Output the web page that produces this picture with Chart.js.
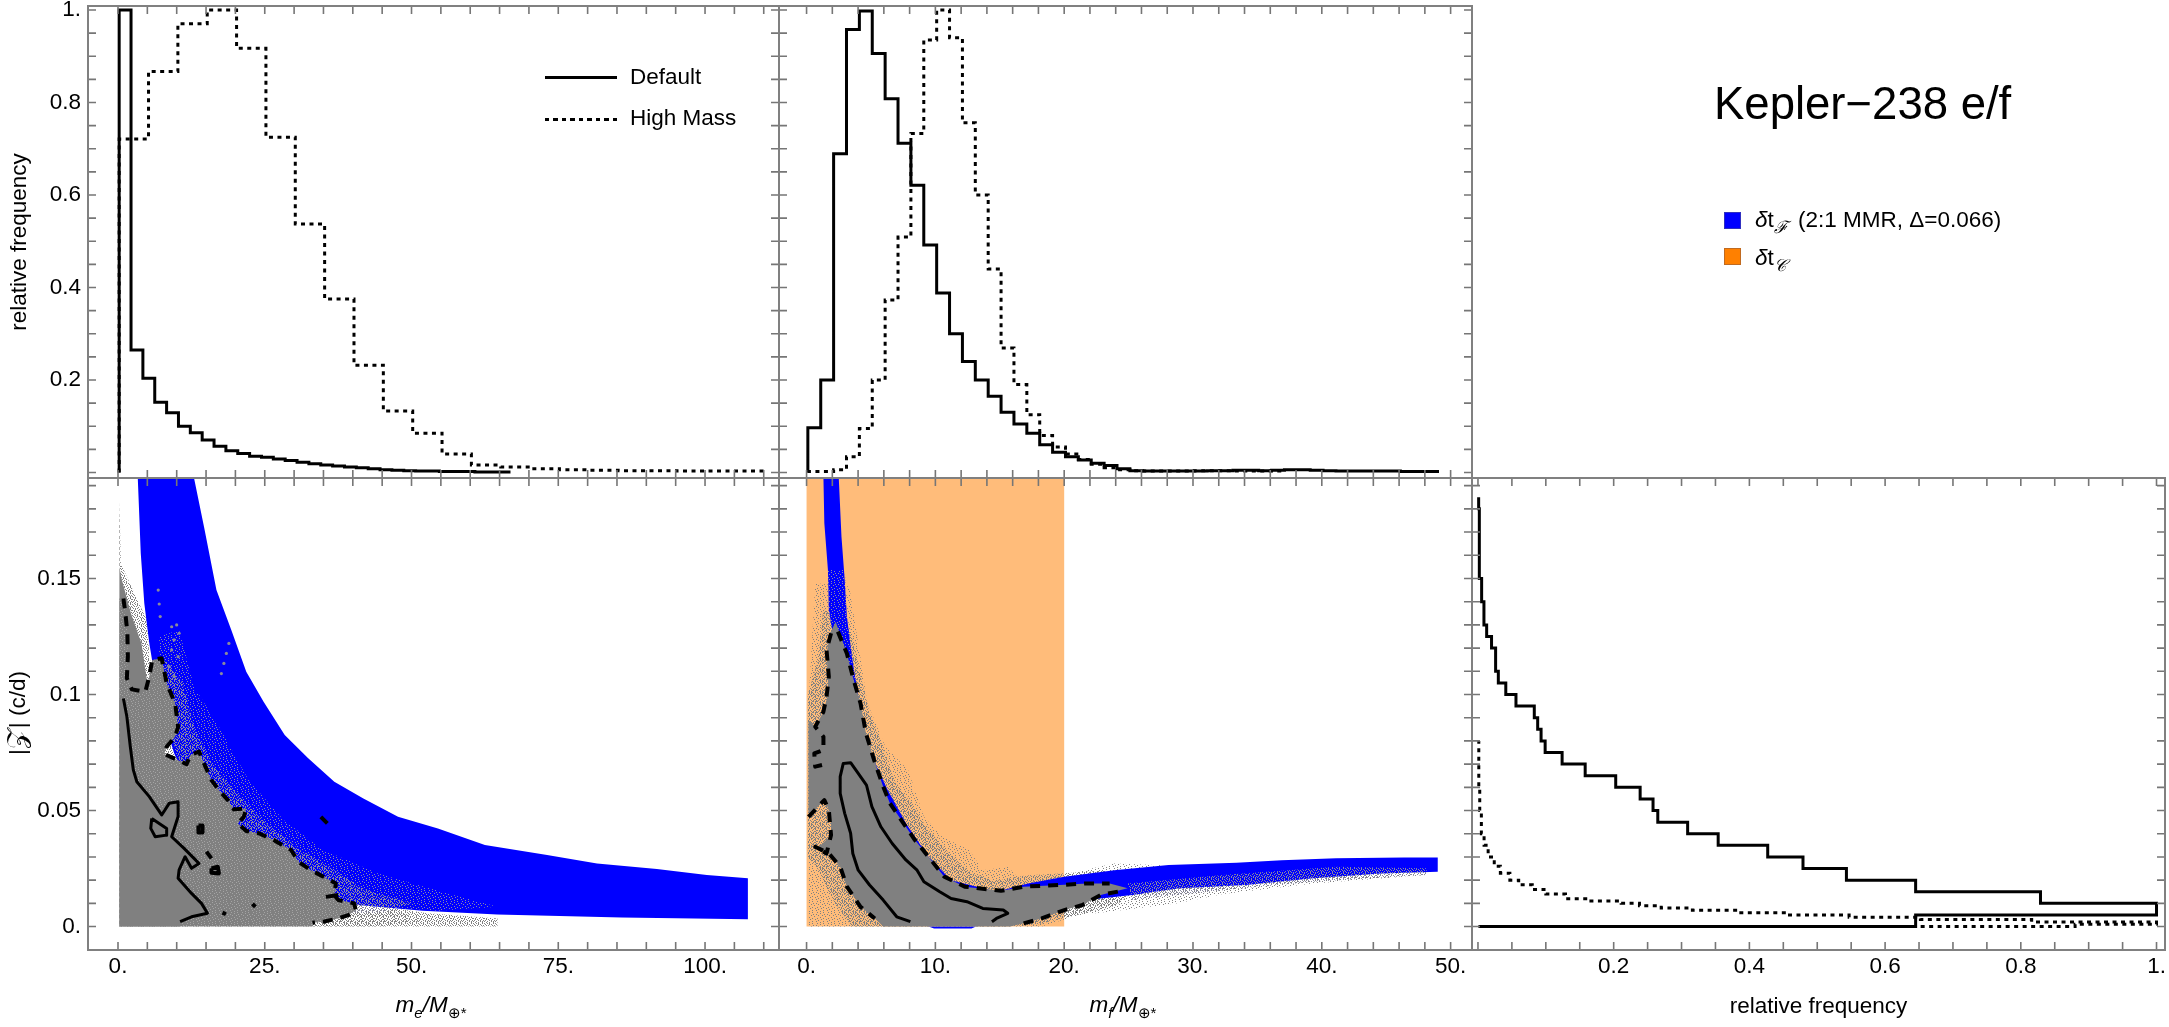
<!DOCTYPE html>
<html>
<head>
<meta charset="utf-8">
<script src="https://cdn.jsdelivr.net/npm/chart.js@4"></script>
<style>
html, body { margin: 0; padding: 0; background: #fff; }
body { width: 2169px; height: 1027px; position: relative; overflow: hidden; font-family: "Liberation Sans", Arial, sans-serif; color: #000; }
canvas { position: absolute; filter: blur(0.55px); }
.t { position: absolute; white-space: nowrap; font-size: 22.5px; line-height: 26px; filter: blur(0.35px); }
.t sub { font-size: 15px; line-height: 0; }
.t sub.script { font-size: 17px; }
.swatch { position: absolute; width: 15px; height: 15px; }
</style>
</head>
<body>
<canvas id="topE"></canvas>
<canvas id="topF"></canvas>
<canvas id="massE"></canvas>
<canvas id="massF"></canvas>
<canvas id="sideZ"></canvas>

<div class="t" style="left:1714px;top:78px;font-size:45.5px;line-height:52px">Kepler−238 e/f</div>

<div style="position:absolute;left:545px;top:76px;width:72px;height:3px;background:#000"></div>
<div class="t" style="left:630px;top:64px">Default</div>
<div style="position:absolute;left:545px;top:118px;width:72px;height:3px;background:repeating-linear-gradient(90deg,#000 0 4px,transparent 4px 8.5px)"></div>
<div class="t" style="left:630px;top:105px">High Mass</div>

<div class="swatch" style="left:1724px;top:212px;background:#0000ff;border:1px solid #3030c0"></div>
<div class="t" style="left:1755px;top:207px"><i>δ</i>t<sub class="script"><i>ℱ</i></sub></div>
<div class="t" style="left:1798px;top:207px">(2:1 MMR, Δ=0.066)</div>
<div class="swatch" style="left:1724px;top:248px;background:#ff8000;border:1px solid #c06a20"></div>
<div class="t" style="left:1755px;top:245px"><i>δ</i>t<sub class="script"><i>𝒞</i></sub></div>

<div class="t" style="left:431px;top:992px;transform:translateX(-50%)"><i>m<sub>e</sub>/M</i><sub>⊕*</sub></div>
<div class="t" style="left:1123px;top:992px;transform:translateX(-50%)"><i>m<sub>f</sub>/M</i><sub>⊕*</sub></div>
<div class="t" style="left:18px;top:713px;transform:translate(-50%,-50%) rotate(-90deg)">|<span style="font-size:27px;line-height:0">𝒵</span>| (c/d)</div>

<script>
// axis ticks
const xTicksE = [0, 25, 50, 75, 100];
const xLabelsE = ['0.', '25.', '50.', '75.', '100.'];
const xTicksF = [0, 10, 20, 30, 40, 50];
const xLabelsF = ['0.', '10.', '20.', '30.', '40.', '50.'];
const freqTicks = [0.2, 0.4, 0.6, 0.8, 1];
const freqLabels = ['0.2', '0.4', '0.6', '0.8', '1.'];
const zTicks = [0, 0.05, 0.1, 0.15];
const zLabels = ['0.', '0.05', '0.1', '0.15'];

// top histograms, relative frequency per bin
const defaultE = [1, .265, .204, .152, .129, .1, .086, .07, .057, .047, .041, .035, .033, .029, .026, .022, .019, .016, .014, .012, .01, .008, .006, .005, .004, .003, .003, .002, .002, .002, .001, .001, .001];
const highMassE = [.721, .867, .97, 1, .917, .725, .537, .375, .232, .133, .085, .04, .016, .012, .008, .006, .005, .004, .004, .003, .003, .003];
const defaultF = [.097, .2, .689, .958, .998, .906, .808, .712, .621, .492, .388, .3, .24, .2, .165, .13, .105, .085, .06, .044, .034, .027, .02, .015, .008, .004, .003, .003, .003, .003, .003, .004, .004, .005, .005, .004, .005, .006, .006, .005, .004, .003, .003, .003, .003, .003, .002, .002, .002];
const highMassF = [.002, .002, .006, .034, .095, .2, .373, .509, .733, .935, 1, .94, .756, .6, .44, .269, .19, .125, .08, .055, .04, .028, .018, .01, .006, .004, .003, .003, .003, .003, .004, .004, .004, .003, .003, .003, .003];

// side histograms, frequency per |Z| bin
const defaultZ = [.645, 1, .829, .645, .543, .479, .427, .354, .309, .265, .258, .239, .203, .158, .124, .099, .093, .088, .083, .056, .041, .03, .026, .026, .02, .0128, .0088, .0088, .0054, .0054, .002, .002, .002, .002, .002, .002, .001];
const highMassZEdges = [0, .001, .002, .003, .004, .005, .006, .007, .008, .009, .01, .011, .012, .014, .016, .018, .02, .023, .026, .03, .035, .04, .05, .06, .08];
const highMassZ = [.88, 1, .816, .652, .547, .455, .382, .316, .27, .238, .211, .162, .129, .1, .08, .06, .047, .033, .024, .015, .009, .005, .0026, .0012];

// m_e panel regions
const grayE_m = [.24, .49, 2.78, 4.9, 5.33, 9.56, 19.73, 32.44, 40.92, 52.8, 64.65, 64.65, .24];
const grayE_z = [.1831, .1565, .1436, .1321, .1163, .0747, .0315, .0143, .01, .0057, .0035, 0, 0];
const heavyTopE_m = [.24, .6, 2.2, 4, 5, 5, .24];
const heavyTopE_z = [.155, .15, .135, .122, .105, .09, .09];
const heavyLowE_m = [30, 38, 46, 52, 44, 33];
const heavyLowE_z = [.02, .012, .008, .0025, 0, 0];
const blueE_m = [12.95, 14.65, 16.77, 19.3, 21.85, 24.8, 28.4, 32.4, 36.85, 41.8, 47.7, 54.5, 62.5, 73.1, 81.6, 91.8, 100.3, 107.3, 107.3, 85.8, 64.6, 51.9, 40.9, 34.1, 27.4, 19.7, 13.8, 9.56, 7.02, 5.33, 4.48, 3.88, 3.37];
const blueE_z = [.1933, .1723, .145, .1278, .1098, .0969, .0825, .0725, .0624, .0552, .0473, .0423, .0351, .0308, .0272, .0248, .0222, .0208, .0032, .0039, .0052, .0068, .0093, .0128, .0215, .0359, .0531, .0747, .0962, .1221, .1393, .1608, .1933];
const mixE_m = [7.02, 10.41, 12.95, 17.19, 22.27, 28.21, 34.99, 44.31, 56.18, 64.65, 54.5, 40.9, 27.4, 19.7, 13.8, 9.56, 7.02];
const mixE_z = [.1249, .1278, .1034, .0861, .0631, .0459, .033, .0229, .0143, .0085, .0068, .0093, .0215, .0359, .0531, .0747, .0962];
const nearE_m = [8, 11, 13, 16, 20, 25, 31, 37, 42, 50, 45, 38, 30, 20, 12, 8];
const nearE_z = [.115, .105, .085, .07, .058, .045, .033, .024, .016, .01, .006, .006, .01, .03, .06, .09];
const streakE_m = [6.85, 7.02, 7.19, 9.14, 9.99, 10.41, 9.56, 9.14, 10.24, 8.72, 9.56, 18.89, 18.46, 18.04, 17.61];
const streakE_z = [.145, .139, .1336, .1292, .13, .1264, .1235, .1192, .1163, .112, .1077, .122, .1177, .1134, .109];

// m_e contours
const solidE_m = [.92, 1.51, 2.1, 2.61, 3.21, 5.33, 7.44, 8.72, 10.24, 10.24, 9.14, 11.26, 12.95, 13.8, 12.53, 11.43, 10.41, 10.24, 12.53, 14.22, 15.24, 12.53, 10.58];
const solidE_z = [.0983, .0905, .0775, .0675, .0624, .056, .0481, .0531, .0538, .0474, .0387, .0337, .0294, .0272, .0251, .0301, .0244, .0208, .0143, .01, .0057, .0042, .0021];
const loopE_m = [5.75, 8.29, 8.29, 6.34, 5.58, 5.75];
const loopE_z = [.0466, .0423, .0394, .0387, .0423, .0466];
const dashE_m = [.92, 1.26, 1.6, 1.68, 1.51, 2.36, 4.65, 5.33, 5.83, 7.44, 8.29, 9.73, 10.24, 9.73, 8.29, 7.87, 11.68, 12.36, 13.8, 14.65, 15.92, 17.19, 18.72, 19.73, 21.85, 21.43, 20.41, 21.85, 23.97, 26.51, 29.48, 30.75, 32.87, 34.99, 37.11, 36.85, 37.53, 40.24, 40.5, 39.23, 37.53, 34.99, 33.12];
const dashE_z = [.1414, .135, .1264, .1163, .107, .1022, .1012, .1077, .1149, .1156, .1048, .0962, .0861, .0818, .0775, .0744, .07, .0739, .0754, .0703, .0631, .0588, .0545, .0505, .0509, .0473, .0445, .0412, .0402, .0373, .033, .0279, .0243, .0215, .0186, .0136, .0114, .01, .0071, .0049, .0035, .0021, .0016];
const blobsE_m = [[34.56, 35.66], [13.7, 14.4, 14.4, 13.7, 13.7], [15.07, 15.92], [15.92, 17, 17.19, 15.92, 15.92], [22.9, 23.4], [17.8, 18.4], [35.41, 37.5]];
const blobsE_z = [[.0473, .0445], [.0435, .0435, .0405, .0405, .0435], [.0323, .0294], [.0251, .0258, .0229, .0232, .0251], [.0098, .0085], [.006, .0053], [.0128, .0136]];

// m_f panel regions
const orangeF_m = [0, 20, 20, 0];
const orangeF_z = [0, 0, .1933, .1933];
const grayF_m = [.67, 3.31, 4.01, 4.72, 6.12, 7.88, 9.11, 10.52, 12.63, 13.68, 15.62, 16.85, 23.88, 48.14, 39.35, 32.32, 28.8, 24.58, 21.07, 18.25, .15, .15];
const grayF_z = [.1479, .1465, .122, .0962, .0775, .0675, .0473, .0387, .033, .0243, .0258, .0186, .0272, .0222, .0186, .014, .01, .0071, .0049, 0, 0, .0962];
const nearF_m = [1.3, 3.4, 4.1, 4.9, 5.8, 6.8, 8, 9.4, 10.8, 12.5, 14.5, 17, 20, 23, 26, 24, 21, 18, 15.5, 5.5, 3.5, 2, .9, .1, .1, .9];
const nearF_z = [.137, .128, .11, .092, .079, .063, .054, .042, .033, .024, .0195, .022, .023, .024, .018, .009, .005, .001, 0, 0, 0, .012, .025, .03, .1, .115];
const blueF_m = [1.31, 1.38, 1.66, 1.73, 2.08, 4.19, 11.22, 21.77, 25.29, 28.8, 34.08, 39.35, 44.62, 49, 49, 46.38, 41.11, 36.89, 33.37, 28.1, 23.88, 20.01, 17.2, 14.74, 11.22, 9.46, 7.71, 6.3, 4.96, 4.44, 4.01, 3.56, 3.13, 2.96, 2.71, 2.5];
const blueF_z = [.1933, .1738, .1537, .1364, .1249, .0675, .0129, .0114, .0136, .0164, .0179, .0208, .0229, .0236, .0298, .0298, .0294, .0286, .0275, .0265, .0243, .0215, .0186, .015, .02, .0301, .0445, .0588, .0746, .0847, .0991, .1149, .1336, .1494, .168, .1933];
const sliverF_m = [9.46, 13.16, 12.8, 9.9];
const sliverF_z = [0, 0, -.0008, -.0008];
const mixTopF_m = [1.66, 2.96, 3.49, 4.54, 1.73];
const mixTopF_z = [.1537, .1537, .1163, .0818, .122];
const mixTailF_m = [24.93, 32.32, 41.11, 48.14, 48.14, 39.35, 32.32, 25.29];
const mixTailF_z = [.0186, .0222, .0258, .0251, .0222, .0193, .0157, .0114];
const coreF_m = [2.26, 3.13, 3.66, 4.19, 4.61, 5.24, 5.95, 6.47, 7.35, 8.41, 9.46, 10.69, 12.28, 15.09, 16.85, 19.66, 21.77, 23.53, 24.93, 22.83, 21.42, 20.01, 18.25, 16.85, 15.79, 5.95, 5.3, 4.19, 3.13, 2.61, 1.73, .85, 1.9, 1.9, 1.38, .67, .15, .15, .67, 1.31, 1.62, 1.66, 1.55, 1.83];
const coreF_z = [.1314, .1177, .1062, .0962, .0833, .0718, .0603, .0531, .0459, .0373, .0301, .0215, .0172, .0154, .0172, .0179, .0186, .0186, .0165, .0136, .0093, .0071, .0035, .0014, 0, 0, .0035, .0085, .0172, .0258, .0315, .0337, .0394, .0473, .0552, .0502, .0488, .089, .0861, .0926, .0991, .1077, .1177, .1264];

// m_f contours
const solidF_m = [8.06, 7, 5.95, 4.89, 4.01, 3.59, 3.42, 2.96, 2.61, 2.61, 2.85, 3.42, 4.01, 4.65, 5.07, 5.77, 6.65, 7.71, 8.58, 9.11, 10.34, 11.22, 12.45, 13.68, 15.27, 15.62, 14.74, 14.39];
const solidF_z = [.0021, .0042, .0114, .0179, .0243, .0315, .0402, .0488, .0574, .0646, .0703, .0706, .066, .061, .0517, .043, .0358, .0287, .0243, .0193, .015, .0121, .0107, .0078, .0071, .0057, .0035, .0021];
const dashUpF_m = [2.43, 3.13, 3.66, 4.19, 4.61, 5.24, 5.95, 6.47, 7.35, 8.41, 9.46, 10.69, 12.28, 15.09, 16.85, 19.66, 21.77, 23.53];
const dashUpF_z = [.1271, .1177, .1062, .0962, .0833, .0718, .0603, .0531, .0459, .0373, .0301, .0215, .0172, .0154, .0172, .0179, .0186, .0186];
const dashLeftF_m = [1.9, 1.55, 1.73, 1.55, 1.31, .67, 1.31, 1.31, .6, .67, 1.2];
const dashLeftF_z = [.1264, .1192, .1077, .0991, .0926, .0861, .0818, .0761, .0746, .0689, .0696];
const dashLowF_m = [.15, 1.38, 1.73, 1.9, 1.55, .67, 1.73, 2.61, 3.13, 4.19, 5.3];
const dashLowF_z = [.0473, .0545, .0502, .0394, .0315, .0344, .0315, .0258, .0172, .0085, .0035];
const dashTailF_m = [16.85, 18.25, 20.01, 21.42, 22.83, 24.58];
const dashTailF_z = [.0014, .0035, .0071, .0093, .0136, .0155];

const FONT = 'Liberation Sans';
const GRAY = '#808080';
const BLUE = '#0000ff';

// small tile so the clouds read as dots instead of flat fills
function speckle(rows, mark, dot, base) {
  const c = document.createElement('canvas');
  c.width = rows[0].length;
  c.height = rows.length;
  const g = c.getContext('2d');
  if (base) { g.fillStyle = base; g.fillRect(0, 0, c.width, c.height); }
  g.fillStyle = dot;
  rows.forEach((row, y) => { [...row].forEach((ch, x) => { if (ch === mark) g.fillRect(x, y, 1, 1); }); });
  return g.createPattern(c, 'repeat');
}
const denseRows = ['#..#.#...#.', '.#...#.#...', '..#.#...#.#', '#.....#..#.', '.#.#.#...#.', '...#...#.#.', '#.#...#...#', '..#.#...#..', '.#...#.#..#', '#..#...#.#.', '..#..#...#.'];
const sparseRows = ['#.....#....', '...#.......', '.......#..#', '.#...#.....', '........#..', '...#.......', '#.....#....', '....#....#.', '.#.........', '......#...#', '...#.......'];
const grayDots = speckle(denseRows, '#', GRAY);
const grayFew = speckle(sparseRows, '#', GRAY);
const grayHeavy = speckle(denseRows, '.', GRAY);
const blueMix = speckle(sparseRows, '#', '#8a8aa8');
const blueNear = speckle(denseRows, '#', '#8888a0');
const midGray = speckle(sparseRows, '#', '#a4a4a4', GRAY);

function pts(xs, ys) { return xs.map((x, i) => ({ x: x, y: ys[i] })); }
function poly(xs, ys, color) {
  return { data: pts(xs, ys), fill: 'shape', backgroundColor: color, borderWidth: 0, pointRadius: 0 };
}
function curve(xs, ys, dash, width) {
  return { data: pts(xs, ys), fill: false, borderColor: '#000', borderWidth: width || 3, borderDash: dash || [], borderJoinStyle: 'round', pointRadius: 0 };
}
// histogram outline from bin edges and heights
function stepVerts(edges, vals) {
  const out = [{ x: edges[0], y: 0 }];
  vals.forEach((v, i) => { out.push({ x: edges[i], y: v }, { x: edges[i + 1], y: v }); });
  return out;
}
function binEdges(start, width, vals) { return [...vals, 0].map((_, i) => start + i * width); }
function hist(edges, vals, dash) {
  return { data: stepVerts(edges, vals), fill: false, borderColor: '#000', borderWidth: 3, borderDash: dash || [], pointRadius: 0 };
}
// same outline turned on its side, for the right hand panel
function sideHist(edges, vals, dash, startFreq) {
  const out = [{ x: startFreq, y: 0 }];
  vals.forEach((v, i) => { out.push({ x: v, y: edges[i] }, { x: v, y: edges[i + 1] }); });
  return { data: out, fill: false, borderColor: '#000', borderWidth: 3, borderDash: dash || [], pointRadius: 0 };
}

const frameTicks = {
  id: 'frameTicks',
  afterDraw(chart) {
    const { left, right, top, bottom } = chart.chartArea;
    const ctx = chart.ctx;
    const TL = 8;
    ctx.save();
    ctx.strokeStyle = '#767676';
    ctx.lineWidth = 1.6;
    ctx.beginPath();
    chart.scales.x.ticks.forEach(t => {
      const px = chart.scales.x.getPixelForValue(t.value);
      if (px < left + 2 || px > right - 2) return;
      ctx.moveTo(px, top); ctx.lineTo(px, top + TL);
      ctx.moveTo(px, bottom); ctx.lineTo(px, bottom - TL);
    });
    chart.scales.y.ticks.forEach(t => {
      const py = chart.scales.y.getPixelForValue(t.value);
      if (py < top + 2 || py > bottom - 2) return;
      ctx.moveTo(left, py); ctx.lineTo(left + TL, py);
      ctx.moveTo(right, py); ctx.lineTo(right - TL, py);
    });
    ctx.stroke();
    ctx.lineWidth = 2;
    ctx.strokeStyle = GRAY;
    ctx.strokeRect(left, top, right - left, bottom - top);
    ctx.restore();
  }
};

function axis(min, max, step, vals, labels, fixedSize, title, pad) {
  return {
    type: 'linear', min: min, max: max,
    grid: { display: false, drawTicks: false },
    border: { display: false },
    title: title ? { display: true, text: title.text, color: '#000', font: { family: FONT, size: 22.5 }, padding: title.padding } : { display: false },
    ticks: {
      display: !!vals, stepSize: step, includeBounds: false, autoSkip: false, maxRotation: 0, minRotation: 0,
      color: '#000', font: { family: FONT, size: 22.5 }, padding: pad === undefined ? 7 : pad,
      callback: v => {
        if (!vals) return '';
        const i = vals.findIndex(t => Math.abs(t - v) < 1e-9);
        return i < 0 ? '' : labels[i];
      }
    },
    afterFit: s => {
      if (s.isHorizontal()) s.height = fixedSize; else s.width = fixedSize;
      s.paddingLeft = s.paddingRight = s.paddingTop = s.paddingBottom = 0;
    }
  };
}

// rect is the plot frame in page pixels, m the room kept around it on the canvas
function panel(id, rect, m, xAxis, yAxis, datasets) {
  const cv = document.getElementById(id);
  cv.width = rect.r - rect.l + m.l + m.r;
  cv.height = rect.b - rect.t + m.t + m.b;
  cv.style.left = (rect.l - m.l) + 'px';
  cv.style.top = (rect.t - m.t) + 'px';
  datasets.forEach((d, i) => { d.order = datasets.length - i; d.tension = 0; });
  return new Chart(cv, {
    type: 'line',
    data: { datasets: datasets },
    options: {
      responsive: false, animation: false, devicePixelRatio: 1, events: [],
      layout: { padding: { top: m.t, right: m.r, left: 0, bottom: 0 } },
      plugins: { legend: { display: false }, tooltip: { enabled: false } },
      scales: { x: xAxis(m.b), y: yAxis(m.l) }
    },
    plugins: [frameTicks]
  });
}

const DOTS = [4, 4.5];
const DASHES = [10, 8];

const xRangeE = [-5.11, 112.6];
const xRangeF = [-2.14, 51.66];
const xRangeZ = [-.0088, 1.0125];
const yRangeTop = [-.0119, 1.0086];
const yRangeZ = [-.0101, .1933];

panel('topE', { l: 88, r: 779, t: 6, b: 478 }, { l: 88, r: 6, t: 6, b: 6 },
  s => axis(xRangeE[0], xRangeE[1], 5, null, null, s),
  s => axis(yRangeTop[0], yRangeTop[1], .05, freqTicks, freqLabels, s, { text: 'relative frequency', padding: { top: 6, bottom: 0 } }),
  [
    hist(binEdges(.2, 2.02, defaultE), defaultE),
    hist(binEdges(.2, 5, highMassE), highMassE, DOTS)
  ]);

panel('topF', { l: 779, r: 1472, t: 6, b: 478 }, { l: 6, r: 6, t: 6, b: 6 },
  s => axis(xRangeF[0], xRangeF[1], 2, null, null, s),
  s => axis(yRangeTop[0], yRangeTop[1], .05, null, null, s),
  [
    hist(binEdges(.1, 1, defaultF), defaultF),
    hist(binEdges(.1, 1, highMassF), highMassF, DOTS)
  ]);

panel('massE', { l: 88, r: 779, t: 478, b: 950 }, { l: 88, r: 6, t: 6, b: 77 },
  s => axis(xRangeE[0], xRangeE[1], 5, xTicksE, xLabelsE, s, null, 3),
  s => axis(yRangeZ[0], yRangeZ[1], .01, zTicks, zLabels, s),
  [
    poly(grayE_m, grayE_z, grayDots),
    poly(heavyTopE_m, heavyTopE_z, grayHeavy),
    poly(heavyLowE_m, heavyLowE_z, grayFew),
    poly(blueE_m, blueE_z, BLUE),
    poly(mixE_m, mixE_z, blueMix),
    poly(nearE_m, nearE_z, blueNear),
    { data: pts(streakE_m, streakE_z), showLine: false, pointRadius: 1.6, pointBackgroundColor: '#8a8a9c', pointBorderWidth: 0 },
    poly([.24, .24, ...dashE_m, 33.12], [0, .1414, ...dashE_z, 0], midGray),
    poly([.24, .24, ...solidE_m, 10.58], [0, .0983, ...solidE_z, 0], GRAY),
    curve(solidE_m, solidE_z),
    curve(loopE_m, loopE_z),
    curve(dashE_m, dashE_z, DASHES, 4),
    ...blobsE_m.map((xs, i) => curve(xs, blobsE_z[i], [], 4))
  ]);

panel('massF', { l: 779, r: 1472, t: 478, b: 950 }, { l: 6, r: 6, t: 6, b: 77 },
  s => axis(xRangeF[0], xRangeF[1], 2, xTicksF, xLabelsF, s, null, 3),
  s => axis(yRangeZ[0], yRangeZ[1], .01, null, null, s),
  [
    poly(orangeF_m, orangeF_z, 'rgb(255,188,122)'),
    poly(grayF_m, grayF_z, grayFew),
    poly(nearF_m, nearF_z, grayDots),
    poly(sliverF_m, sliverF_z, BLUE),
    poly(blueF_m, blueF_z, BLUE),
    poly(mixTopF_m, mixTopF_z, blueMix),
    poly(mixTailF_m, mixTailF_z, blueNear),
    poly(coreF_m, coreF_z, GRAY),
    curve(solidF_m, solidF_z),
    curve(dashUpF_m, dashUpF_z, DASHES, 4),
    curve(dashLeftF_m, dashLeftF_z, DASHES, 4),
    curve(dashLowF_m, dashLowF_z, DASHES, 4),
    curve(dashTailF_m, dashTailF_z, DASHES, 4)
  ]);

panel('sideZ', { l: 1472, r: 2165, t: 478, b: 950 }, { l: 6, r: 4, t: 6, b: 77 },
  s => axis(xRangeZ[0], xRangeZ[1], .05, freqTicks, freqLabels, s, { text: 'relative frequency', padding: { top: 0, bottom: 7 } }, 3),
  s => axis(yRangeZ[0], yRangeZ[1], .01, null, null, s),
  [
    sideHist(binEdges(0, .005, defaultZ), defaultZ, [], .001),
    sideHist(highMassZEdges, highMassZ, DOTS, .001)
  ]);
</script>
</body>
</html>
